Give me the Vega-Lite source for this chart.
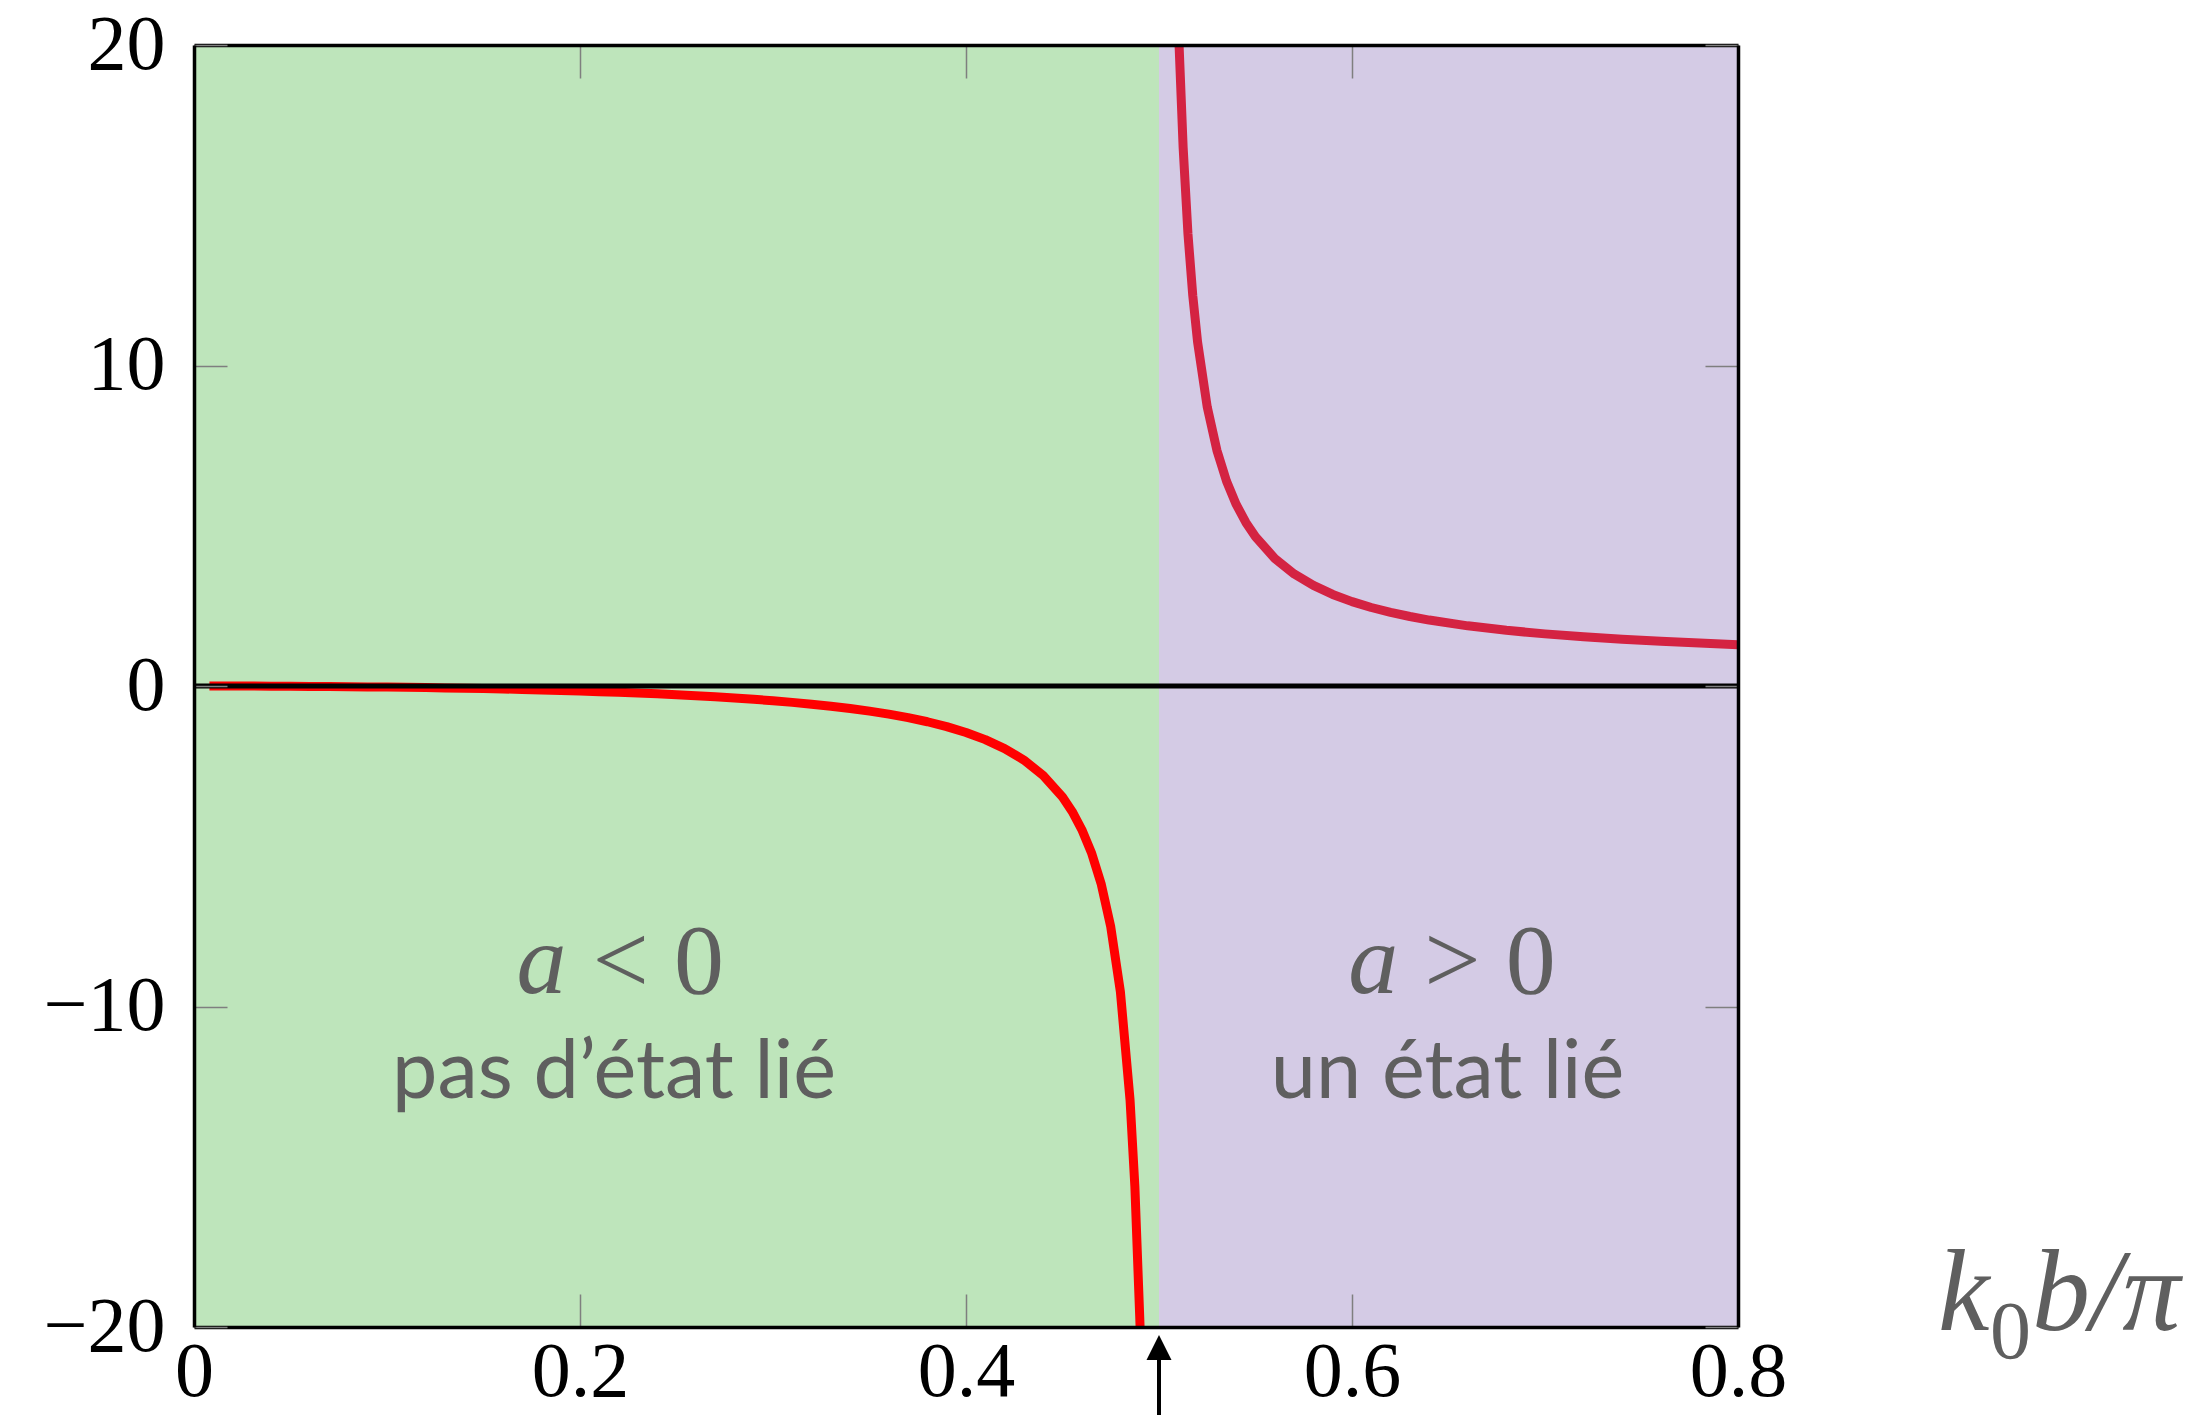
{
  "$schema": "https://vega.github.io/schema/vega-lite/v6.json",
  "width": 1544,
  "height": 1282,
  "autosize": "none",
  "padding": {"left": 194, "top": 45, "right": 465, "bottom": 88},
  "background": "white",
  "config": {
    "view": {"stroke": null},
    "axis": {"grid": false, "zindex": 1}
  },
  "datasets": {
    "regions": [
      {"region": "a < 0", "x_start": 0.0, "x_end": 0.5},
      {"region": "a > 0", "x_start": 0.5, "x_end": 0.8}
    ],
    "scattering_length": [
      {"branch": "below", "k0b_pi": 0.008, "a_over_b": -0.0002},
      {"branch": "below", "k0b_pi": 0.01, "a_over_b": -0.0003},
      {"branch": "below", "k0b_pi": 0.02, "a_over_b": -0.0013},
      {"branch": "below", "k0b_pi": 0.03, "a_over_b": -0.0030},
      {"branch": "below", "k0b_pi": 0.04, "a_over_b": -0.0053},
      {"branch": "below", "k0b_pi": 0.05, "a_over_b": -0.0083},
      {"branch": "below", "k0b_pi": 0.06, "a_over_b": -0.0120},
      {"branch": "below", "k0b_pi": 0.07, "a_over_b": -0.0163},
      {"branch": "below", "k0b_pi": 0.08, "a_over_b": -0.0215},
      {"branch": "below", "k0b_pi": 0.09, "a_over_b": -0.0276},
      {"branch": "below", "k0b_pi": 0.10, "a_over_b": -0.0343},
      {"branch": "below", "k0b_pi": 0.11, "a_over_b": -0.0418},
      {"branch": "below", "k0b_pi": 0.12, "a_over_b": -0.0502},
      {"branch": "below", "k0b_pi": 0.13, "a_over_b": -0.0596},
      {"branch": "below", "k0b_pi": 0.14, "a_over_b": -0.0699},
      {"branch": "below", "k0b_pi": 0.15, "a_over_b": -0.0813},
      {"branch": "below", "k0b_pi": 0.16, "a_over_b": -0.0937},
      {"branch": "below", "k0b_pi": 0.17, "a_over_b": -0.1073},
      {"branch": "below", "k0b_pi": 0.18, "a_over_b": -0.1223},
      {"branch": "below", "k0b_pi": 0.19, "a_over_b": -0.1385},
      {"branch": "below", "k0b_pi": 0.20, "a_over_b": -0.1563},
      {"branch": "below", "k0b_pi": 0.21, "a_over_b": -0.1757},
      {"branch": "below", "k0b_pi": 0.22, "a_over_b": -0.1970},
      {"branch": "below", "k0b_pi": 0.23, "a_over_b": -0.2201},
      {"branch": "below", "k0b_pi": 0.24, "a_over_b": -0.2455},
      {"branch": "below", "k0b_pi": 0.25, "a_over_b": -0.2732},
      {"branch": "below", "k0b_pi": 0.26, "a_over_b": -0.3037},
      {"branch": "below", "k0b_pi": 0.27, "a_over_b": -0.3371},
      {"branch": "below", "k0b_pi": 0.28, "a_over_b": -0.3741},
      {"branch": "below", "k0b_pi": 0.29, "a_over_b": -0.4150},
      {"branch": "below", "k0b_pi": 0.30, "a_over_b": -0.4604},
      {"branch": "below", "k0b_pi": 0.31, "a_over_b": -0.5109},
      {"branch": "below", "k0b_pi": 0.32, "a_over_b": -0.5674},
      {"branch": "below", "k0b_pi": 0.33, "a_over_b": -0.6310},
      {"branch": "below", "k0b_pi": 0.34, "a_over_b": -0.7029},
      {"branch": "below", "k0b_pi": 0.35, "a_over_b": -0.7849},
      {"branch": "below", "k0b_pi": 0.36, "a_over_b": -0.8790},
      {"branch": "below", "k0b_pi": 0.37, "a_over_b": -0.9880},
      {"branch": "below", "k0b_pi": 0.38, "a_over_b": -1.1157},
      {"branch": "below", "k0b_pi": 0.39, "a_over_b": -1.2671},
      {"branch": "below", "k0b_pi": 0.40, "a_over_b": -1.4491},
      {"branch": "below", "k0b_pi": 0.41, "a_over_b": -1.6723},
      {"branch": "below", "k0b_pi": 0.42, "a_over_b": -1.9517},
      {"branch": "below", "k0b_pi": 0.43, "a_over_b": -2.3117},
      {"branch": "below", "k0b_pi": 0.44, "a_over_b": -2.7924},
      {"branch": "below", "k0b_pi": 0.45, "a_over_b": -3.4661},
      {"branch": "below", "k0b_pi": 0.455, "a_over_b": -3.9156},
      {"branch": "below", "k0b_pi": 0.46, "a_over_b": -4.4776},
      {"branch": "below", "k0b_pi": 0.465, "a_over_b": -5.2004},
      {"branch": "below", "k0b_pi": 0.47, "a_over_b": -6.1646},
      {"branch": "below", "k0b_pi": 0.475, "a_over_b": -7.5148},
      {"branch": "below", "k0b_pi": 0.48, "a_over_b": -9.5404},
      {"branch": "below", "k0b_pi": 0.485, "a_over_b": -12.917},
      {"branch": "below", "k0b_pi": 0.4875, "a_over_b": -15.62},
      {"branch": "below", "k0b_pi": 0.49, "a_over_b": -19.671},
      {"branch": "below", "k0b_pi": 0.4902, "a_over_b": -20.0},
      {"branch": "above", "k0b_pi": 0.5104, "a_over_b": 20.0},
      {"branch": "above", "k0b_pi": 0.5125, "a_over_b": 16.81},
      {"branch": "above", "k0b_pi": 0.515, "a_over_b": 14.11},
      {"branch": "above", "k0b_pi": 0.5175, "a_over_b": 12.18},
      {"branch": "above", "k0b_pi": 0.52, "a_over_b": 10.73},
      {"branch": "above", "k0b_pi": 0.525, "a_over_b": 8.704},
      {"branch": "above", "k0b_pi": 0.53, "a_over_b": 7.354},
      {"branch": "above", "k0b_pi": 0.535, "a_over_b": 6.389},
      {"branch": "above", "k0b_pi": 0.54, "a_over_b": 5.666},
      {"branch": "above", "k0b_pi": 0.545, "a_over_b": 5.104},
      {"branch": "above", "k0b_pi": 0.55, "a_over_b": 4.654},
      {"branch": "above", "k0b_pi": 0.56, "a_over_b": 3.980},
      {"branch": "above", "k0b_pi": 0.57, "a_over_b": 3.498},
      {"branch": "above", "k0b_pi": 0.58, "a_over_b": 3.138},
      {"branch": "above", "k0b_pi": 0.59, "a_over_b": 2.857},
      {"branch": "above", "k0b_pi": 0.60, "a_over_b": 2.633},
      {"branch": "above", "k0b_pi": 0.61, "a_over_b": 2.449},
      {"branch": "above", "k0b_pi": 0.62, "a_over_b": 2.297},
      {"branch": "above", "k0b_pi": 0.63, "a_over_b": 2.168},
      {"branch": "above", "k0b_pi": 0.64, "a_over_b": 2.057},
      {"branch": "above", "k0b_pi": 0.66, "a_over_b": 1.877},
      {"branch": "above", "k0b_pi": 0.68, "a_over_b": 1.738},
      {"branch": "above", "k0b_pi": 0.70, "a_over_b": 1.626},
      {"branch": "above", "k0b_pi": 0.72, "a_over_b": 1.534},
      {"branch": "above", "k0b_pi": 0.74, "a_over_b": 1.458},
      {"branch": "above", "k0b_pi": 0.76, "a_over_b": 1.393},
      {"branch": "above", "k0b_pi": 0.78, "a_over_b": 1.338},
      {"branch": "above", "k0b_pi": 0.80, "a_over_b": 1.289}
    ],
    "annotations": [
      {"region": "a < 0", "symbol": "a", "relation": "< 0", "description": "pas d’état lié", "x_math": 0.193, "x_text": 0.2176, "y_math": -9.58, "y_text": -12.85},
      {"region": "a > 0", "symbol": "a", "relation": "> 0", "description": "un état lié", "x_math": 0.624, "x_text": 0.6495, "y_math": -9.58, "y_text": -12.85}
    ],
    "marker": [
      {"k0b_pi": 0.5}
    ],
    "axis_end": [
      {"k0b_pi": 0.8, "a_over_b": -20}
    ]
  },
  "layer": [
    {
      "data": {"name": "regions"},
      "mark": {"type": "rect"},
      "encoding": {
        "x": {"field": "x_start", "type": "quantitative", "scale": {"domain": [0, 0.8], "nice": false, "zero": false}, "axis": null},
        "x2": {"field": "x_end"},
        "y": {"datum": -20, "type": "quantitative", "scale": {"domain": [-20, 20], "nice": false, "zero": false}, "axis": null},
        "y2": {"datum": 20},
        "color": {"field": "region", "type": "nominal", "scale": {"domain": ["a < 0", "a > 0"], "range": ["#bee5bb", "#d4cbe5"]}, "legend": null}
      }
    },
    {
      "data": {"name": "scattering_length"},
      "mark": {"type": "line", "strokeWidth": 9, "strokeCap": "butt", "strokeJoin": "round", "clip": true},
      "encoding": {
        "x": {
          "field": "k0b_pi", "type": "quantitative",
          "scale": {"domain": [0, 0.8], "nice": false, "zero": false},
          "axis": {
            "orient": "bottom", "values": [0, 0.2, 0.4, 0.6, 0.8], "zindex": 1,
            "labelExpr": "datum.value == 0 ? '0' : format(datum.value, '.1f')",
            "labelFont": "Liberation Serif", "labelFontSize": 78, "labelColor": "black",
            "labelBaseline": "alphabetic", "labelPadding": 101, "labelFlush": false, "labelOverlap": false,
            "tickSize": -33, "tickColor": "#7f7f7f", "tickWidth": 1.5,
            "domainColor": "black", "domainWidth": 3.5,
            "title": null
          }
        },
        "y": {
          "field": "a_over_b", "type": "quantitative",
          "scale": {"domain": [-20, 20], "nice": false, "zero": false},
          "axis": {
            "orient": "left", "values": [-20, -10, 0, 10, 20], "zindex": 1,
            "labelExpr": "replace(format(datum.value, 'd'), '-', '−')",
            "labelFont": "Liberation Serif", "labelFontSize": 78, "labelColor": "black",
            "labelBaseline": "middle", "labelAlign": "right", "labelPadding": 62, "labelFlush": false, "labelOverlap": false,
            "tickSize": -33, "tickColor": "#7f7f7f", "tickWidth": 1.5,
            "domainColor": "black", "domainWidth": 3.5,
            "title": null
          }
        },
        "color": {"field": "branch", "type": "nominal", "scale": {"domain": ["below", "above"], "range": ["#ff0000", "#d42342"]}, "legend": null}
      }
    },
    {
      "data": {"name": "marker"},
      "mark": {"type": "rule", "color": "black", "strokeWidth": 5},
      "encoding": {
        "y": {"datum": 0, "type": "quantitative", "scale": {"domain": [-20, 20], "nice": false, "zero": false}, "axis": null}
      }
    },
    {
      "data": {"name": "annotations"},
      "mark": {"type": "text", "font": "Liberation Serif", "fontStyle": "italic", "fontSize": 100, "color": "#5f5f5f", "align": "right", "baseline": "alphabetic"},
      "encoding": {
        "x": {
          "field": "x_math", "type": "quantitative",
          "scale": {"domain": [0, 0.8], "nice": false, "zero": false},
          "axis": {"orient": "top", "values": [0, 0.2, 0.4, 0.6, 0.8], "labels": false, "title": null, "zindex": 1,
                   "tickSize": -33, "tickColor": "#7f7f7f", "tickWidth": 1.5, "domainColor": "black", "domainWidth": 3.5}
        },
        "y": {
          "field": "y_math", "type": "quantitative",
          "scale": {"domain": [-20, 20], "nice": false, "zero": false},
          "axis": {"orient": "right", "values": [-20, -10, 0, 10, 20], "labels": false, "title": null, "zindex": 1,
                   "tickSize": -33, "tickColor": "#7f7f7f", "tickWidth": 1.5, "domainColor": "black", "domainWidth": 3.5}
        },
        "text": {"field": "symbol"}
      }
    },
    {
      "data": {"name": "annotations"},
      "mark": {"type": "text", "font": "Liberation Serif", "fontSize": 100, "color": "#5f5f5f", "align": "left", "baseline": "alphabetic", "dx": 26},
      "encoding": {
        "x": {"field": "x_math", "type": "quantitative", "scale": {"domain": [0, 0.8], "nice": false, "zero": false}, "axis": null},
        "y": {"field": "y_math", "type": "quantitative", "scale": {"domain": [-20, 20], "nice": false, "zero": false}, "axis": null},
        "text": {"field": "relation"}
      }
    },
    {
      "data": {"name": "annotations"},
      "mark": {"type": "text", "font": "Lato", "fontSize": 81, "color": "#5f5f5f", "align": "center", "baseline": "alphabetic"},
      "encoding": {
        "x": {"field": "x_text", "type": "quantitative", "scale": {"domain": [0, 0.8], "nice": false, "zero": false}, "axis": null},
        "y": {"field": "y_text", "type": "quantitative", "scale": {"domain": [-20, 20], "nice": false, "zero": false}, "axis": null},
        "text": {"field": "description"}
      }
    },
    {
      "data": {"name": "axis_end"},
      "mark": {"type": "text", "font": "Liberation Serif", "fontStyle": "italic", "fontSize": 116, "color": "#5f5f5f", "align": "left", "baseline": "alphabetic", "dx": 200, "dy": 3, "clip": false},
      "encoding": {
        "x": {"field": "k0b_pi", "type": "quantitative", "scale": {"domain": [0, 0.8], "nice": false, "zero": false}, "axis": null},
        "y": {"field": "a_over_b", "type": "quantitative", "scale": {"domain": [-20, 20], "nice": false, "zero": false}, "axis": null},
        "text": {"value": "k"}
      }
    },
    {
      "data": {"name": "axis_end"},
      "mark": {"type": "text", "font": "Liberation Serif", "fontSize": 82, "color": "#5f5f5f", "align": "left", "baseline": "alphabetic", "dx": 252, "dy": 31, "clip": false},
      "encoding": {
        "x": {"field": "k0b_pi", "type": "quantitative", "scale": {"domain": [0, 0.8], "nice": false, "zero": false}, "axis": null},
        "y": {"field": "a_over_b", "type": "quantitative", "scale": {"domain": [-20, 20], "nice": false, "zero": false}, "axis": null},
        "text": {"value": "0"}
      }
    },
    {
      "data": {"name": "axis_end"},
      "mark": {"type": "text", "font": "Liberation Serif", "fontStyle": "italic", "fontSize": 116, "color": "#5f5f5f", "align": "left", "baseline": "alphabetic", "dx": 294, "dy": 3, "clip": false},
      "encoding": {
        "x": {"field": "k0b_pi", "type": "quantitative", "scale": {"domain": [0, 0.8], "nice": false, "zero": false}, "axis": null},
        "y": {"field": "a_over_b", "type": "quantitative", "scale": {"domain": [-20, 20], "nice": false, "zero": false}, "axis": null},
        "text": {"value": "b/π"}
      }
    },
    {
      "data": {"name": "marker"},
      "mark": {"type": "rule", "color": "black", "strokeWidth": 4, "clip": false},
      "encoding": {
        "x": {"field": "k0b_pi", "type": "quantitative", "scale": {"domain": [0, 0.8], "nice": false, "zero": false}, "axis": null},
        "y": {"datum": -20.9, "type": "quantitative", "scale": {"domain": [-20, 20], "nice": false, "zero": false}, "axis": null},
        "y2": {"datum": -22.8}
      }
    },
    {
      "data": {"name": "marker"},
      "mark": {"type": "point", "shape": "M0,-1L1,1L-1,1Z", "size": 625, "filled": true, "color": "black", "opacity": 1, "clip": false},
      "encoding": {
        "x": {"field": "k0b_pi", "type": "quantitative", "scale": {"domain": [0, 0.8], "nice": false, "zero": false}, "axis": null},
        "y": {"datum": -20.64, "type": "quantitative", "scale": {"domain": [-20, 20], "nice": false, "zero": false}, "axis": null}
      }
    }
  ],
  "resolve": {
    "axis": {"x": "independent", "y": "independent"},
    "scale": {"color": "independent"}
  }
}
